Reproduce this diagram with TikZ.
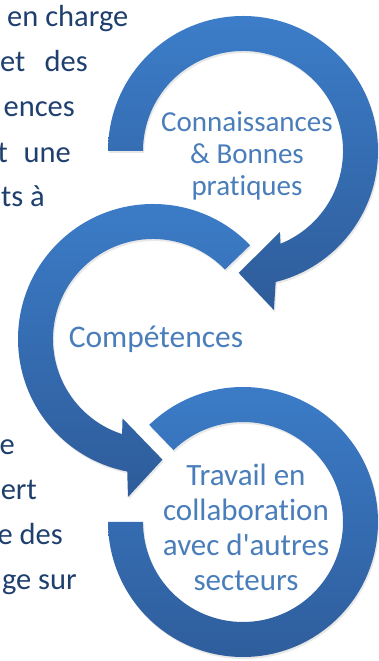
\documentclass[tikz,border=0pt]{standalone}
\usepackage{fontspec}
\setmainfont{Carlito}[Ligatures={CommonOff,TeXOff}]
\usetikzlibrary{shadows}
\definecolor{arrowtop}{RGB}{60,125,201}
\definecolor{arrowbot}{RGB}{46,92,154}
\definecolor{circletext}{RGB}{74,126,187}
\definecolor{bodytext}{RGB}{31,64,110}
\tikzset{
  cycarrow/.style={top color=arrowtop, bottom color=arrowbot, draw=none,
    drop shadow={opacity=0.18, shadow xshift=1.2pt, shadow yshift=-2pt}},
  circlelabel/.style={text=circletext, align=center, inner sep=0pt},
  frag/.style={text=bodytext, inner sep=0pt, font=\fontsize{30.5}{36}\selectfont}
}
\begin{document}
\begin{tikzpicture}[x=1pt,y=1pt]
\useasboundingbox (0,0) rectangle (379,661);
\clip (0,0) rectangle (379,661);
\fill[white] (0,0) rectangle (379,661);

% left paragraph fragments (cut off by the page edge)
\node[frag, anchor=base west] (f1) at (7,634) {en charge};
\node[frag, anchor=base west] (f2a) at (0,589) {et};
\node[frag, anchor=base east] (f2b) at (88,589) {des};
\node[frag, anchor=base east] (f3) at (75,544) {ences};
\node[frag, anchor=base east] (f4a) at (8,498) {t};
\node[frag, anchor=base east] (f4b) at (71,498) {une};
\node[frag, anchor=base east] (f5) at (45,454) {ts à};
\node[frag, anchor=base east] (f6) at (15,206) {e};
\node[frag, anchor=base east] (f7) at (37,161) {ert};
\node[frag, anchor=base east] (f8) at (63,116) {e des};
\node[frag, anchor=base east] (f9) at (77,71) {ge sur};

% arrow 3 (bottom circle, no head)
\begin{scope}[shift={(243,139)}]
\shade[cycarrow] (134:135) arc[start angle=134, end angle=-180, radius=135]
  -- (-180:100) arc[start angle=-180, end angle=134, radius=100] -- cycle;
\end{scope}

% arrow 2 (middle circle)
\begin{scope}[shift={(153,322)}]
\shade[cycarrow] (44:135) arc[start angle=44, end angle=259, radius=135]
  -- (261:160) -- (274.5:121) -- (249:85) -- (252:100)
  arc[start angle=252, end angle=44, radius=100] -- cycle;
\end{scope}

% arrow 1 (top circle)
\begin{scope}[shift={(243,510)}]
\shade[cycarrow] (180:135) arc[start angle=180, end angle=-76, radius=135]
  -- (-79:162) -- (-92:122) -- (-65.5:89) -- (-68:100)
  arc[start angle=-68, end angle=180, radius=100] -- cycle;
\end{scope}

% labels
\node[circlelabel, font=\fontsize{29}{32}\selectfont] (t1) at (247,505)
  {Connaissances\\\& Bonnes\\pratiques};
\node[circlelabel, font=\fontsize{31.5}{35}\selectfont, anchor=base] (t2) at (156,313)
  {Compétences};
\node[circlelabel, font=\fontsize{31}{35}\selectfont] (t3) at (246,134)
  {Travail en\\collaboration\\avec d'autres\\secteurs};
\end{tikzpicture}
\end{document}
